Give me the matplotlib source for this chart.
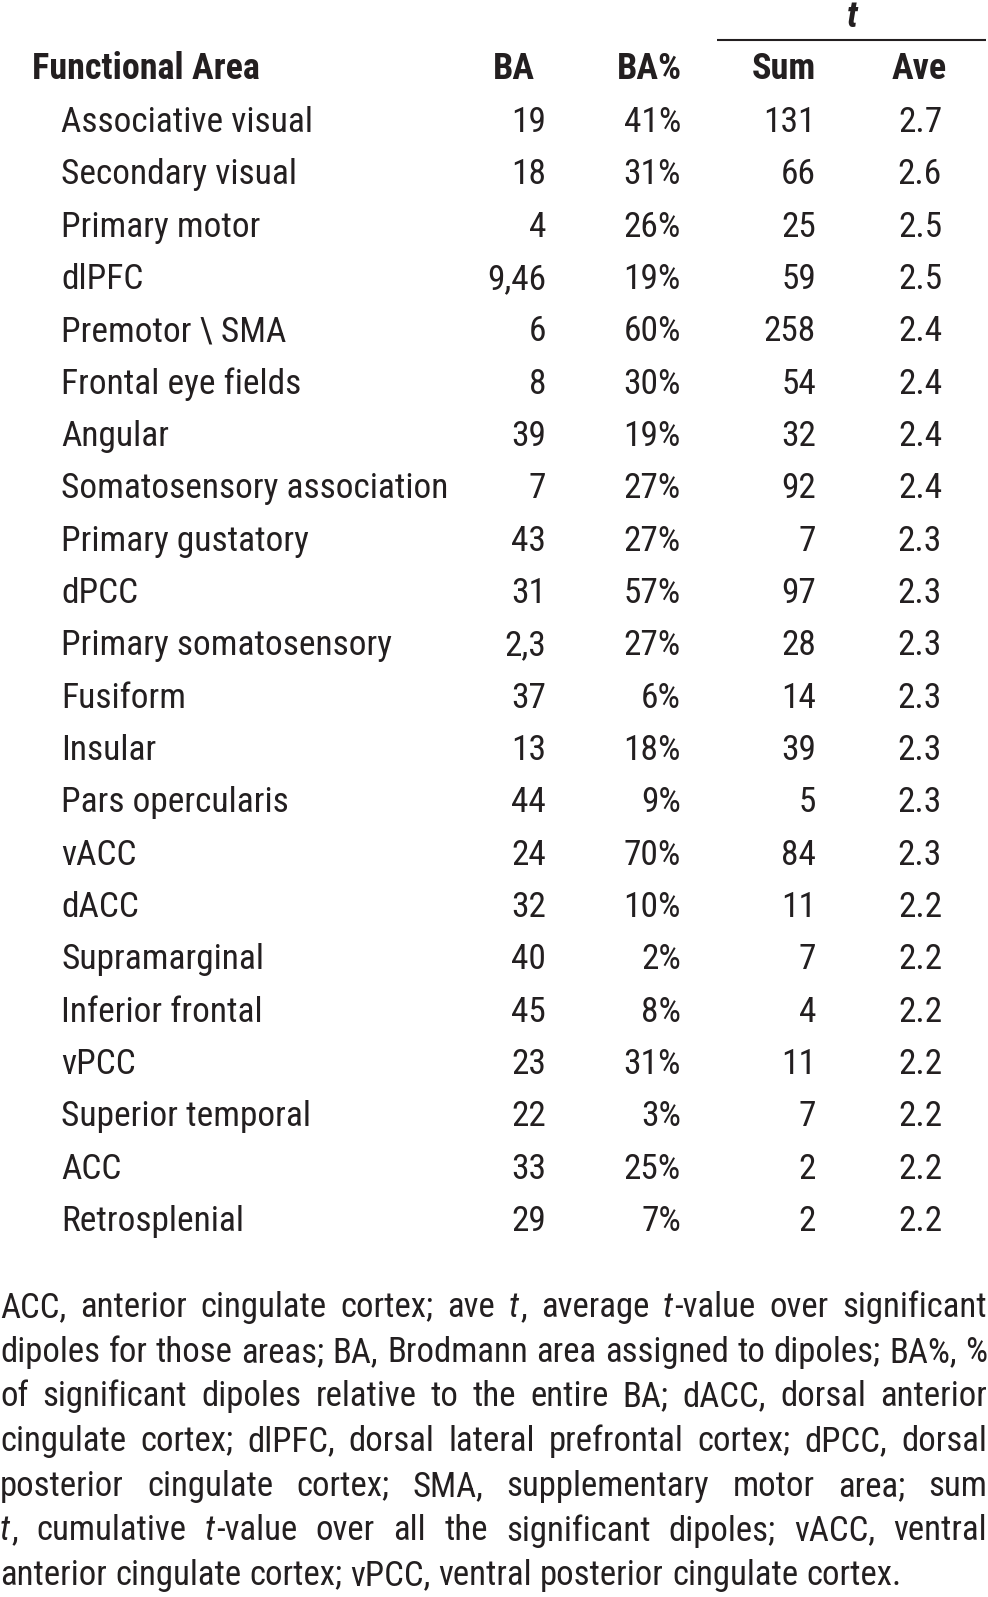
import matplotlib
matplotlib.use("Agg")
import matplotlib.pyplot as plt
import matplotlib.font_manager as fm

# ---------------- data ----------------
areas = ["Associative visual", "Secondary visual", "Primary motor", "dlPFC",
         "Premotor \\ SMA", "Frontal eye fields", "Angular",
         "Somatosensory association", "Primary gustatory", "dPCC",
         "Primary somatosensory", "Fusiform", "Insular", "Pars opercularis",
         "vACC", "dACC", "Supramarginal", "Inferior frontal", "vPCC",
         "Superior temporal", "ACC", "Retrosplenial"]
ba = ["19", "18", "4", "9,46", "6", "8", "39", "7", "43", "31", "2,3", "37",
      "13", "44", "24", "32", "40", "45", "23", "22", "33", "29"]
ba_pct = [41, 31, 26, 19, 60, 30, 19, 27, 27, 57, 27, 6, 18, 9, 70, 10, 2, 8,
          31, 3, 25, 7]
t_sum = [131, 66, 25, 59, 258, 54, 32, 92, 7, 97, 28, 14, 39, 5, 84, 11, 7, 4,
         11, 7, 2, 2]
t_ave = [2.7, 2.6, 2.5, 2.5, 2.4, 2.4, 2.4, 2.4, 2.3, 2.3, 2.3, 2.3, 2.3, 2.3,
         2.3, 2.2, 2.2, 2.2, 2.2, 2.2, 2.2, 2.2]
headers = ["Functional Area", "BA", "BA%", "Sum", "Ave"]
group_header = "t"

# footnote lines (words between * are italic)
footnote = [
    "ACC, anterior cingulate cortex; ave *t*, average *t*-value over significant",
    "dipoles for those areas; BA, Brodmann area assigned to dipoles; BA%, %",
    "of significant dipoles relative to the entire BA; dACC, dorsal anterior",
    "cingulate cortex; dlPFC, dorsal lateral prefrontal cortex; dPCC, dorsal",
    "posterior cingulate cortex; SMA, supplementary motor area; sum",
    "*t*, cumulative *t*-value over all the significant dipoles; vACC, ventral",
    "anterior cingulate cortex; vPCC, ventral posterior cingulate cortex.",
]

# ---------------- font ----------------
names = {f.name for f in fm.fontManager.ttflist}
family = None
for cand in ["Liberation Sans Narrow", "Arial Narrow", "Nimbus Sans Narrow",
             "Roboto Condensed", "Noto Sans Condensed", "Open Sans Condensed"]:
    if cand in names:
        family = cand
        break
stretch = "normal"
if family is None:
    if any(f.name == "DejaVu Sans" and f.stretch == "condensed"
           for f in fm.fontManager.ttflist):
        family = "DejaVu Sans"
        stretch = "condensed"
    else:
        family = "Liberation Sans"

COLOR = "#231f20"
W, H = 988, 1597
fig = plt.figure(figsize=(W / 100, H / 100), dpi=100)
ax = fig.add_axes([0, 0, 1, 1])
ax.set_xlim(0, W)
ax.set_ylim(H, 0)
ax.axis("off")

FS = 25.5
HFS = 26

def txt(x, y, s, ha="left", weight="normal", style="normal", size=FS):
    return ax.text(x, y, s, ha=ha, va="baseline", fontsize=size,
                   family=family, fontstretch=stretch, weight=weight,
                   style=style, color=COLOR)

# header
txt(32, 79, headers[0], weight="bold", size=HFS)
col_centers = [514, 649, 784, 919]
for c, h in zip(col_centers, headers[1:]):
    txt(c, 79, h, ha="center", weight="bold", size=HFS)
txt(852, 27, group_header, ha="center", weight="bold", style="italic", size=HFS)
ax.plot([717, 986], [40, 40], color=COLOR, lw=1.5, solid_capstyle="butt")

# rows
row0, dy = 132, 52.33
rights = [546, 681, 816, 942]
for i in range(len(areas)):
    y = row0 + i * dy
    txt(61, y, areas[i])
    vals = [ba[i], f"{ba_pct[i]}%", f"{t_sum[i]}", f"{t_ave[i]:.1f}"]
    for r, v in zip(rights, vals):
        txt(r, y, v, ha="right")

# footnote (justified)
fig.canvas.draw()
renderer = fig.canvas.get_renderer()
FFS = 25
fy0, fdy = 1317, 44.7
left, right = 0, 987

def parse(word):
    segs = []
    parts = word.split("*")
    for k, p in enumerate(parts):
        if p:
            segs.append((p, k % 2 == 1))
    return segs

probe1 = txt(0, -100, "a a", size=FFS)
probe2 = txt(0, -100, "a", size=FFS)
space = probe1.get_window_extent(renderer).width - \
    2 * probe2.get_window_extent(renderer).width
probe1.remove()
probe2.remove()

for li, line in enumerate(footnote):
    y = fy0 + li * fdy
    words = [parse(w) for w in line.split(" ")]
    size = FFS
    last = li == len(footnote) - 1
    while True:
        arts = []
        widths = []
        for segs in words:
            wa = []
            ww = 0
            for s, it in segs:
                t = txt(0, y, s, style="italic" if it else "normal", size=size)
                bb = t.get_window_extent(renderer)
                w = bb.width + (1.5 if it else 0)
                wa.append((t, w))
                ww += w
            arts.append(wa)
            widths.append(ww)
        total = sum(widths)
        gap = (right - left - total) / (len(words) - 1)
        if gap >= 3 or last:
            break
        for wa in arts:
            for t, _ in wa:
                t.remove()
        size -= 0.25
    if last:
        gap = max(space, 6)
    x = left
    for wa, ww in zip(arts, widths):
        xx = x
        for t, w in wa:
            t.set_x(xx)
            xx += w
        x += ww + gap

fig.savefig("out.png", dpi=100)
